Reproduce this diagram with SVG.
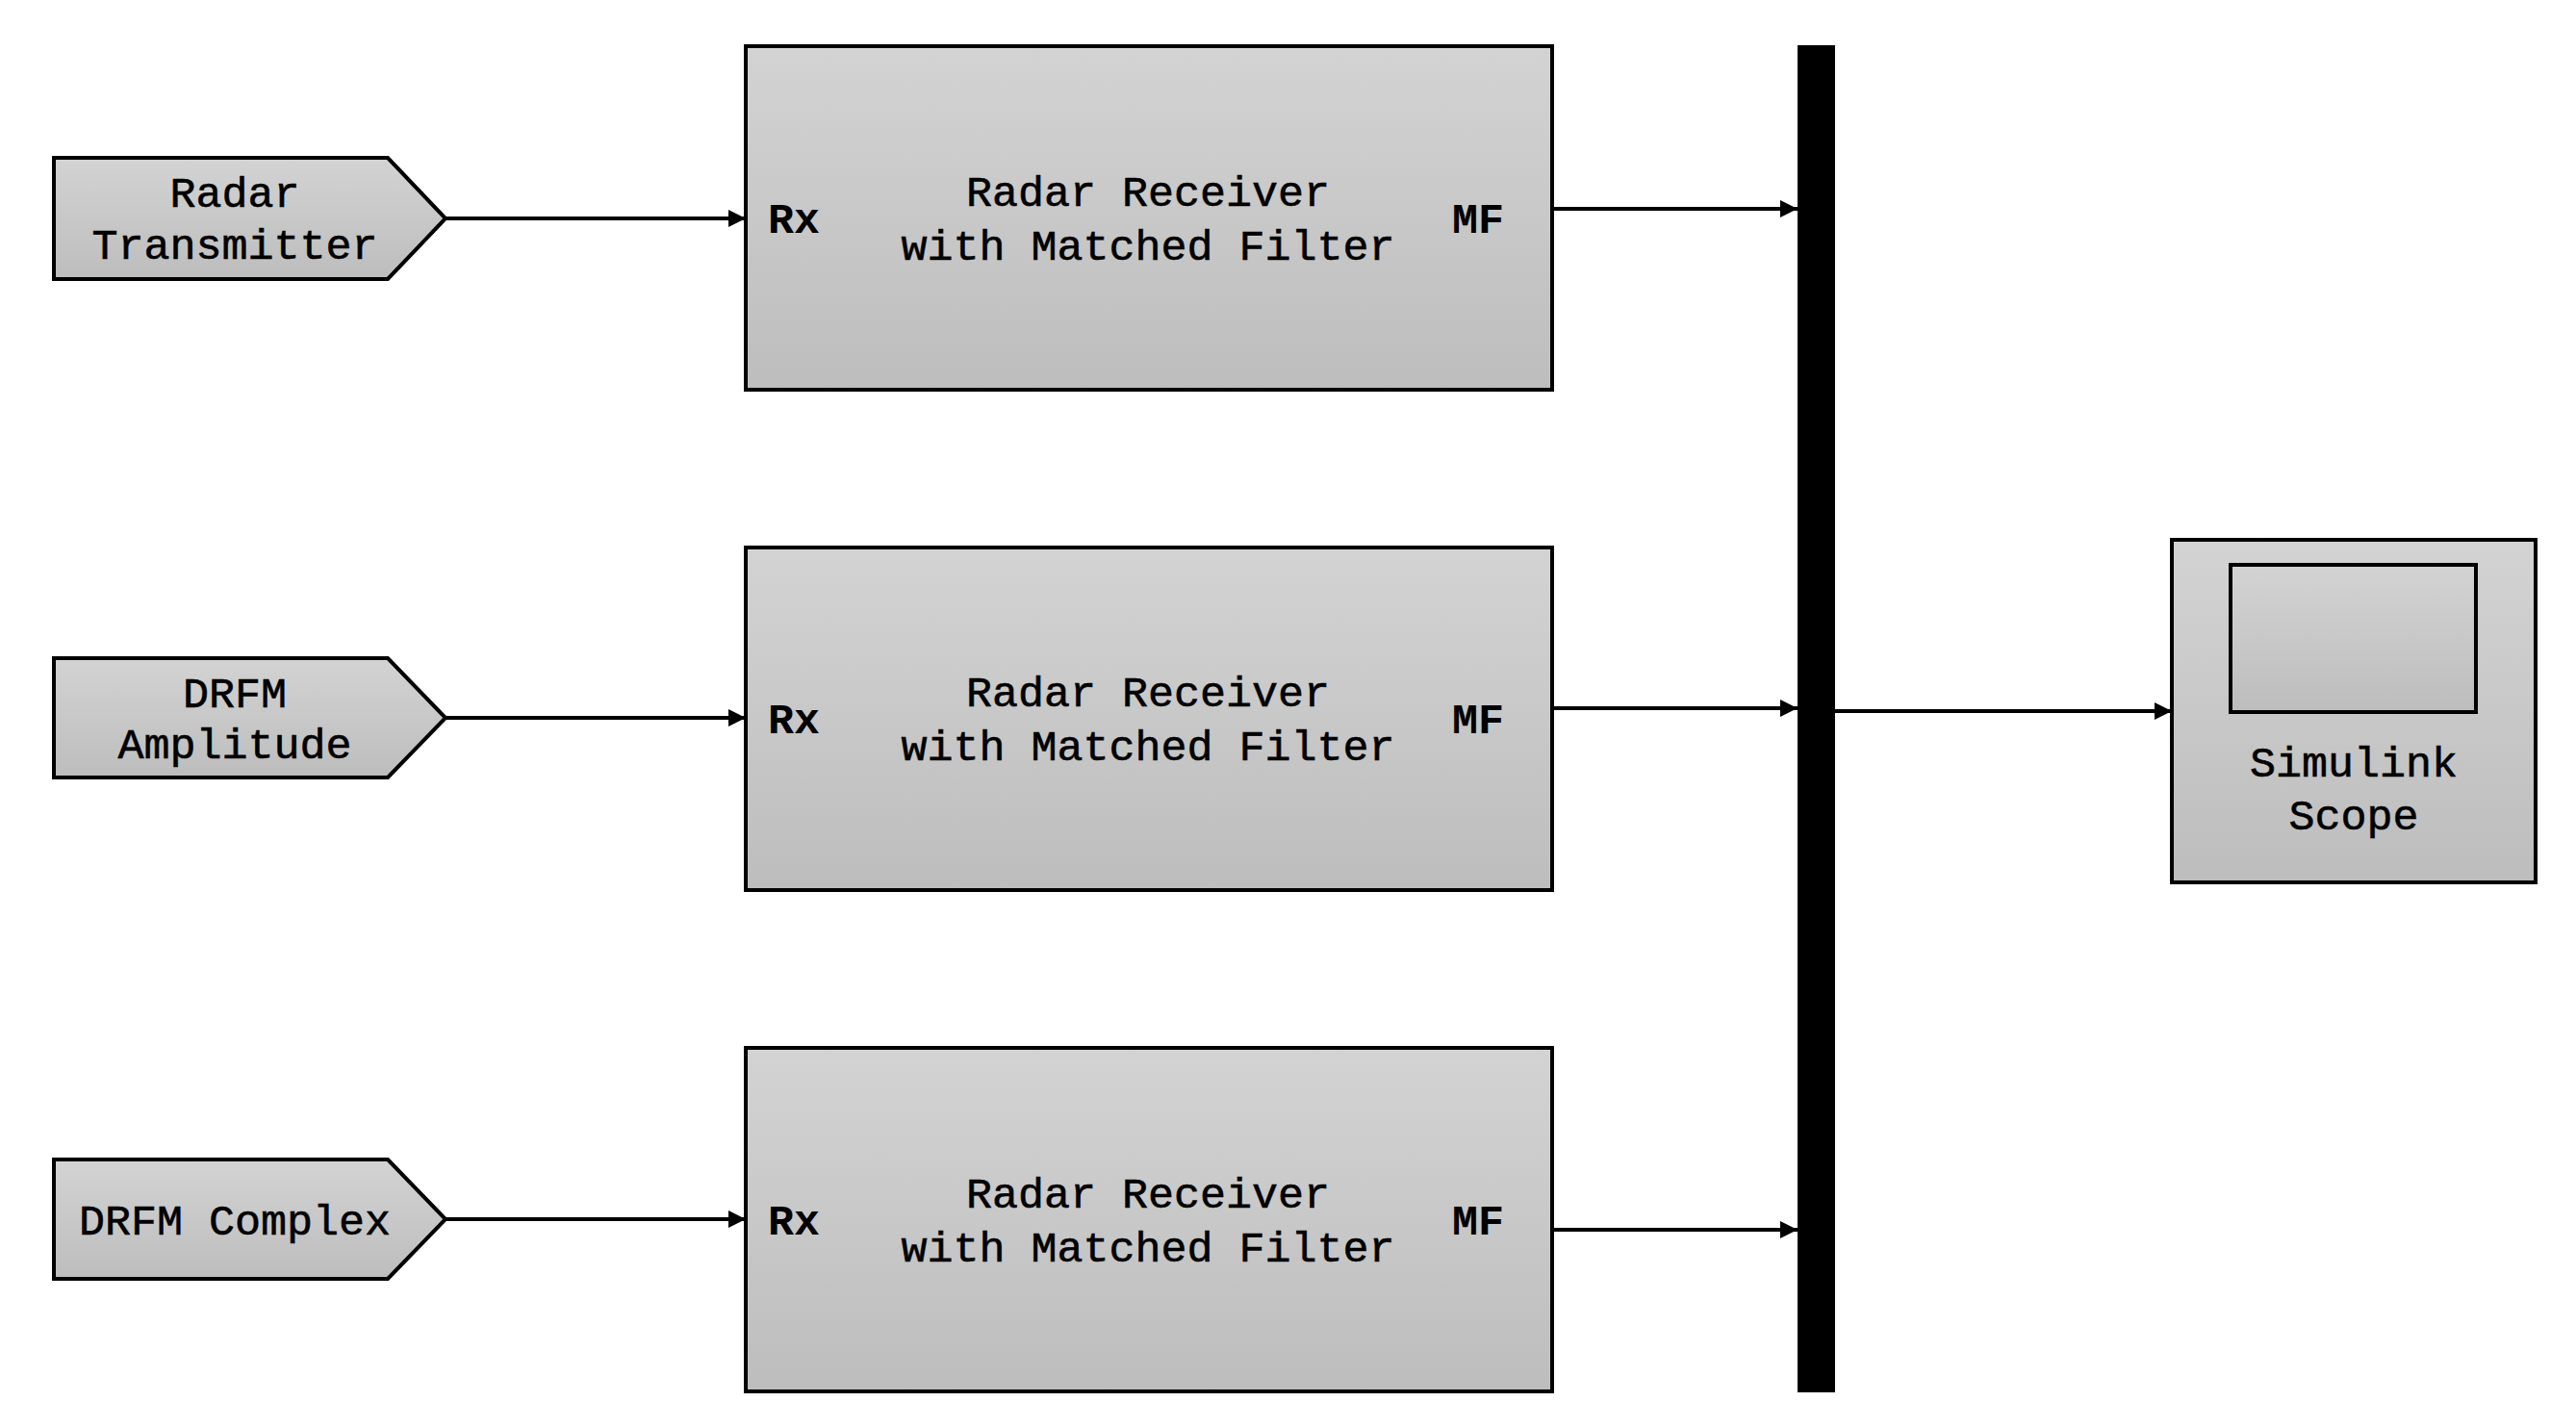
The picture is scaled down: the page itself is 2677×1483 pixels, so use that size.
<svg xmlns="http://www.w3.org/2000/svg" width="2677" height="1483" viewBox="0 0 2677 1483">
<style>
.blk{stroke:#000;stroke-width:4;fill:url(#g)}
.lbl{font-family:"Liberation Mono","Courier New",monospace;font-size:45px;fill:#000;stroke:#000;stroke-width:0.6;text-anchor:middle}
.port{font-family:"Liberation Mono","Courier New",monospace;font-size:45px;font-weight:bold;fill:#000}
.wire{stroke:#000;stroke-width:4;fill:none;marker-end:url(#ah)}
</style>
<defs>
<linearGradient id="g" x1="0" y1="0" x2="0" y2="1">
<stop offset="0" stop-color="#d3d3d3"/>
<stop offset="1" stop-color="#bdbdbd"/>
</linearGradient>
<marker id="ah" markerUnits="userSpaceOnUse" markerWidth="20" markerHeight="20" viewBox="0 0 18 20" refX="18" refY="10" orient="auto">
<path d="M0,1 L18,10 L0,19 Z" fill="#000"/>
</marker>
</defs>
<rect width="2677" height="1483" fill="#fff"/>

<g id="src1">
<path class="blk" d="M56,164 H403 L463,227 L403,290 H56 Z"/>
<text class="lbl" x="244" y="215">Radar</text>
<text class="lbl" x="244" y="269">Transmitter</text>
</g>
<g id="src2">
<path class="blk" d="M56,684 H403 L463,746 L403,808 H56 Z"/>
<text class="lbl" x="244" y="735">DRFM</text>
<text class="lbl" x="244" y="788">Amplitude</text>
</g>
<g id="src3">
<path class="blk" d="M56,1205 H403 L463,1267 L403,1329 H56 Z"/>
<text class="lbl" x="244" y="1283">DRFM Complex</text>
</g>

<g id="rx1">
<rect class="blk" x="775" y="48" width="838" height="357"/>
<text class="lbl" x="1193" y="214">Radar Receiver</text>
<text class="lbl" x="1193" y="270">with Matched Filter</text>
<text class="port" x="798" y="242">Rx</text>
<text class="port" x="1509" y="242">MF</text>
</g>
<g id="rx2">
<rect class="blk" x="775" y="569" width="838" height="356"/>
<text class="lbl" x="1193" y="734">Radar Receiver</text>
<text class="lbl" x="1193" y="790">with Matched Filter</text>
<text class="port" x="798" y="762">Rx</text>
<text class="port" x="1509" y="762">MF</text>
</g>
<g id="rx3">
<rect class="blk" x="775" y="1089" width="838" height="357"/>
<text class="lbl" x="1193" y="1255">Radar Receiver</text>
<text class="lbl" x="1193" y="1311">with Matched Filter</text>
<text class="port" x="798" y="1283">Rx</text>
<text class="port" x="1509" y="1283">MF</text>
</g>

<g id="mux">
<rect x="1868" y="47" width="39" height="1400" fill="#000"/>
</g>

<g id="scope">
<rect class="blk" x="2257" y="561" width="378" height="356"/>
<rect class="blk" x="2318" y="587" width="255" height="153"/>
<text class="lbl" x="2446" y="807">Simulink</text>
<text class="lbl" x="2446" y="862">Scope</text>
</g>

<g id="connectors">
<line class="wire" x1="463" y1="227" x2="775" y2="227"/>
<line class="wire" x1="463" y1="746" x2="775" y2="746"/>
<line class="wire" x1="463" y1="1267" x2="775" y2="1267"/>
<line class="wire" x1="1613" y1="217" x2="1868" y2="217"/>
<line class="wire" x1="1613" y1="736" x2="1868" y2="736"/>
<line class="wire" x1="1613" y1="1278" x2="1868" y2="1278"/>
<line class="wire" x1="1907" y1="739" x2="2257" y2="739"/>
</g>
</svg>
